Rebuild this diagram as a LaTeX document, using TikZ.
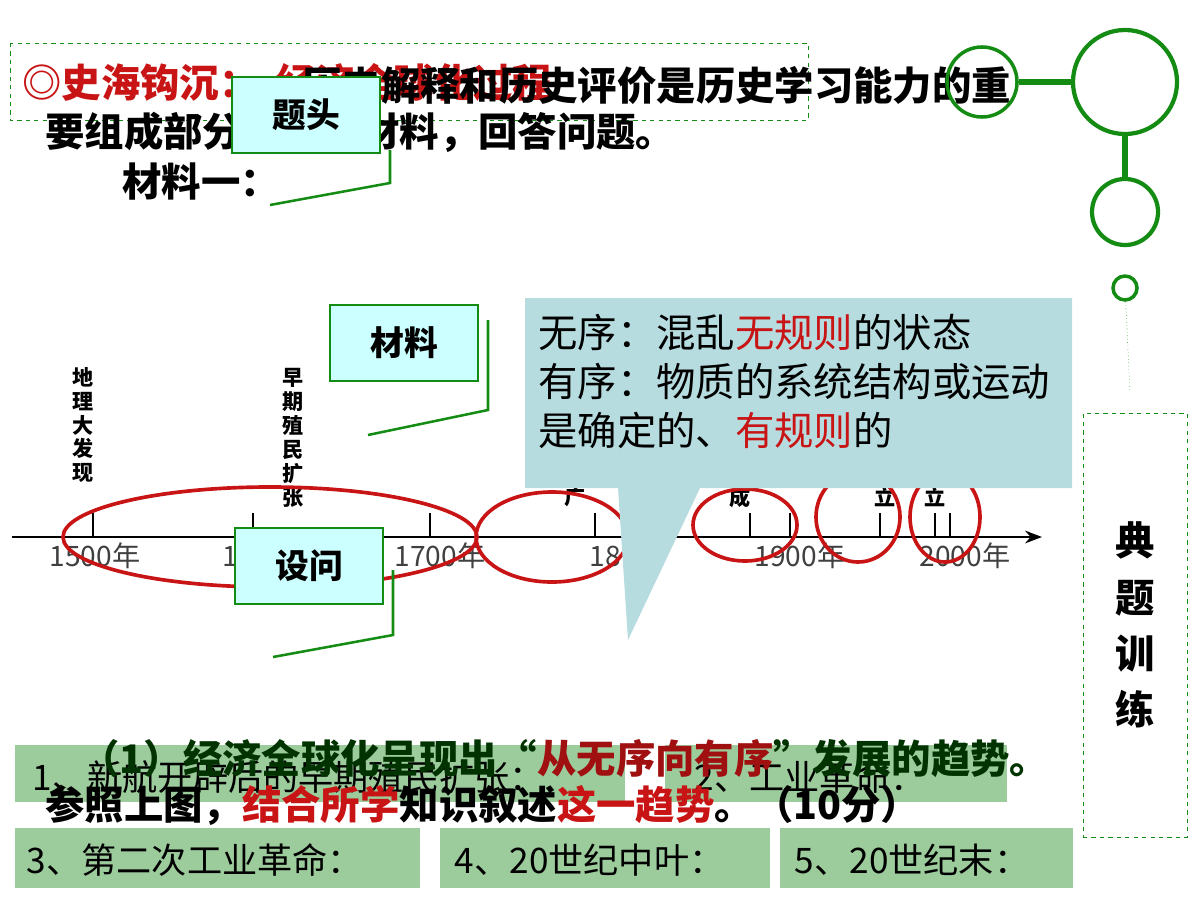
\documentclass[tikz,border=0pt]{standalone}
\usepackage{fontspec}
\setmainfont{Noto Sans CJK SC}
\usetikzlibrary{arrows.meta}
\definecolor{lineg}{RGB}{20,140,20}
\definecolor{tagfill}{RGB}{204,255,255}
\definecolor{callfill}{RGB}{183,220,224}
\definecolor{ansfill}{RGB}{156,203,156}
\definecolor{hired}{RGB}{200,20,20}
\begin{document}
\begin{tikzpicture}[x=0.025cm,y=-0.025cm,
    tagbox/.style={draw=lineg, line width=1.6pt, fill=tagfill, minimum width=3.7cm,
                   minimum height=1.9cm, font=\fontsize{24}{24}\selectfont\bfseries},
    taglink/.style={lineg, line width=1.8pt},
    anstext/.style={anchor=west, font=\fontsize{25}{25}\selectfont},
    body/.style={anchor=west, inner sep=0pt, font=\fontsize{28}{28}\selectfont\bfseries},
    vlabel/.style={font=\fontsize{15}{17}\selectfont\bfseries, align=center},
    ring/.style={draw=hired, line width=2.6pt}
]
\useasboundingbox (0,0) rectangle (1200,900);
% title area
\draw[lineg, dashed] (10,43) rectangle (808,120);
\node (title) [body, text=hired] at (22,82) {◎史海钩沉：\ \ 经济全球化过程};
\node (intro1) [body] at (302,86) {历史解释和历史评价是历史学习能力的重};
\node (intro2) [body] at (45,132) {要组成部分。阅读材料，回答问题。};
\node (mat1) [body] at (122,182) {材料一：};
% right decoration
\node (c1) [circle, draw=lineg, line width=2.5pt, minimum size=1.75cm] at (982,82) {};
\node (c2) [circle, draw=lineg, line width=3pt, minimum size=2.6cm] at (1125,82) {};
\node (c3) [circle, draw=lineg, line width=3pt, minimum size=1.65cm] at (1125,212) {};
\node (c4) [circle, draw=lineg, line width=2.5pt, minimum size=0.6cm] at (1125,288) {};
\draw[lineg, line width=4pt] (c1) -- (c2);
\draw[lineg, line width=4pt] (c2) -- (c3);
\draw[lineg, dotted] (c4) -- (1130,392);
\node (side) [draw=lineg, dashed, minimum width=2.6cm, minimum height=10.6cm,
    font=\fontsize{28}{40}\selectfont\bfseries, align=center] at (1135,625) {典\\题\\训\\练};
% timeline
\draw[line width=1.6pt, -{Stealth[length=12pt]}] (12,537) -- (1042,537);
\foreach \x in {93,253,430,595,750,790,880,935,950}
  \draw[line width=1pt] (\x,537) -- (\x,513);
\foreach \x/\t in {95/1500年,230/1,440/1700年,605/18,800/1900年,965/2000年}
  \node[font=\fontsize{20}{20}\selectfont, text=black!75] at (\x,556) {\t};
\node (geo) [vlabel] at (83,425) {地\\理\\大\\发\\现};
\node (col) [vlabel] at (293,438) {早\\期\\殖\\民\\扩\\张};
\foreach \x/\t in {575/广,740/成,885/立,935/立}
  \node[vlabel] at (\x,497) {\t};
\draw[ring] (270,537) ellipse [x radius=207, y radius=50];
\draw[ring] (552,537) ellipse [x radius=76, y radius=45];
\draw[ring] (745,525) ellipse [x radius=52, y radius=36];
\draw[ring] (858,517) ellipse [x radius=42, y radius=45];
\draw[ring] (945,517) ellipse [x radius=35, y radius=45];
% callout
\fill[callfill] (525,298) -- (1072,298) -- (1072,488) -- (700,488) -- (628,640)
   -- (618,488) -- (525,488) -- cycle;
\node (callout) [anchor=north west, align=left, inner sep=0pt, font=\fontsize{28}{35}\selectfont]
   at (538,314) {无序：混乱\textcolor{hired}{无规则}的状态\\有序：物质的系统结构或运动\\是确定的、\textcolor{hired}{有规则}的};
% tag boxes
\node (head) [tagbox] at (306,115) {题头};
\coordinate (headend) at (270,205);
\draw[taglink] (390,150) -- (390,183) -- (headend);
\node (material) [tagbox] at (404,343) {材料};
\coordinate (matend) at (368,435);
\draw[taglink] (488,320) -- (488,410) -- (matend);
\node (ask) [tagbox] at (309,566) {设问};
\coordinate (askend) at (273,657);
\draw[taglink] (393,570) -- (393,635) -- (askend);
% answer boxes
\fill[ansfill] (15,745) rectangle (625,802);
\fill[ansfill] (665,745) rectangle (1007,802);
\fill[ansfill] (15,828) rectangle (420,888);
\fill[ansfill] (440,828) rectangle (770,888);
\fill[ansfill] (780,828) rectangle (1073,888);
\node (a1) [anstext] at (28,777) {1、新航开辟后的早期殖民扩张：};
\node (a2) [anstext] at (690,777) {2、工业革命：};
\node (a3) [anstext] at (22,860) {3、第二次工业革命：};
\node (a4) [anstext] at (450,860) {4、20世纪中叶：};
\node (a5) [anstext] at (790,860) {5、20世纪末：};
\node (q1) [body, text=black!80!green] at (80,758) {（1）经济全球化呈现出“\textcolor{hired!80!black}{从无序向有序}”发展的趋势。};
\node (q2) [body] at (45,805) {参照上图，\textcolor{hired}{结合所学}知识叙述\textcolor{hired}{这一趋势}。（10分）};
\end{tikzpicture}
\end{document}
